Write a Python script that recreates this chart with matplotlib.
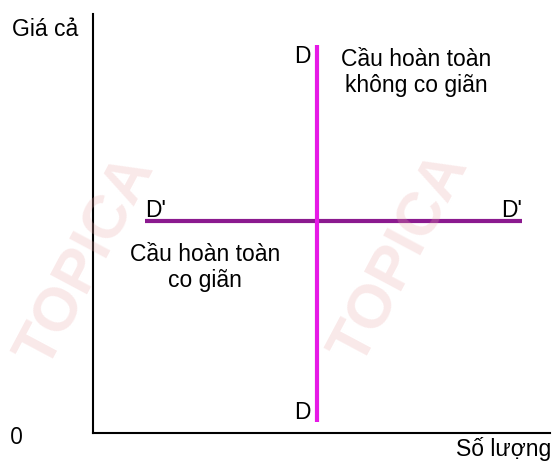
import matplotlib.pyplot as plt

# demand curves (quantity / price on a 0-10 scale)
perfectly_inelastic_x = [4.9, 4.9]
perfectly_inelastic_y = [0.26, 9.26]
perfectly_elastic_x = [1.14, 9.39]
perfectly_elastic_y = [5.06, 5.06]

axis_labels = ["Giá cả", "Số lượng", "0"]
curve_labels = ["D", "D'"]
notes = ["Cầu hoàn toàn\nkhông co giãn", "Cầu hoàn toàn\nco giãn"]

plt.rcParams["font.family"] = ["Liberation Sans", "DejaVu Sans"]

fig = plt.figure(figsize=(5.54, 4.63), dpi=100)
ax = fig.add_axes([0.168, 0.065, 0.825, 0.905])
ax.set_xlim(0, 10)
ax.set_ylim(0, 10)

# faint watermark
for wx, wy in [(0.157, 0.435), (0.725, 0.44)]:
    fig.text(wx, wy, "TOPICA", fontsize=44, fontweight="bold", color="#eaa8a8",
             alpha=0.25, rotation=62, ha="center", va="center", zorder=0)

ax.plot(perfectly_elastic_x, perfectly_elastic_y, color="#8b1a8f", lw=3, solid_capstyle="butt")
ax.plot(perfectly_inelastic_x, perfectly_inelastic_y, color="#e619e6", lw=3, solid_capstyle="butt")

for side in ["top", "right"]:
    ax.spines[side].set_visible(False)
for side in ["left", "bottom"]:
    ax.spines[side].set_linewidth(1.5)
ax.set_xticks([])
ax.set_yticks([])
ax.patch.set_alpha(0)

fs = 16.5
fig.text(12 / 554, 1 - 30 / 463, axis_labels[0], fontsize=fs, ha="left", va="center")
fig.text(551 / 554, 1 - 449 / 463, axis_labels[1], fontsize=fs, ha="right", va="center")
fig.text(16 / 554, 1 - 438 / 463, axis_labels[2], fontsize=fs, ha="center", va="center",
         family="Open Sans")

ax.text(4.75, 8.98, curve_labels[0], fontsize=fs, ha="right", va="center")
ax.text(4.75, 0.48, curve_labels[0], fontsize=fs, ha="right", va="center")
ax.text(1.36, 5.3, curve_labels[1], fontsize=fs, ha="center", va="center")
ax.text(9.16, 5.3, curve_labels[1], fontsize=fs, ha="center", va="center")

ax.text(7.07, 8.6, notes[0], fontsize=fs, ha="center", va="center")
ax.text(2.45, 3.95, notes[1], fontsize=fs, ha="center", va="center")

fig.savefig("out.png", dpi=100)
